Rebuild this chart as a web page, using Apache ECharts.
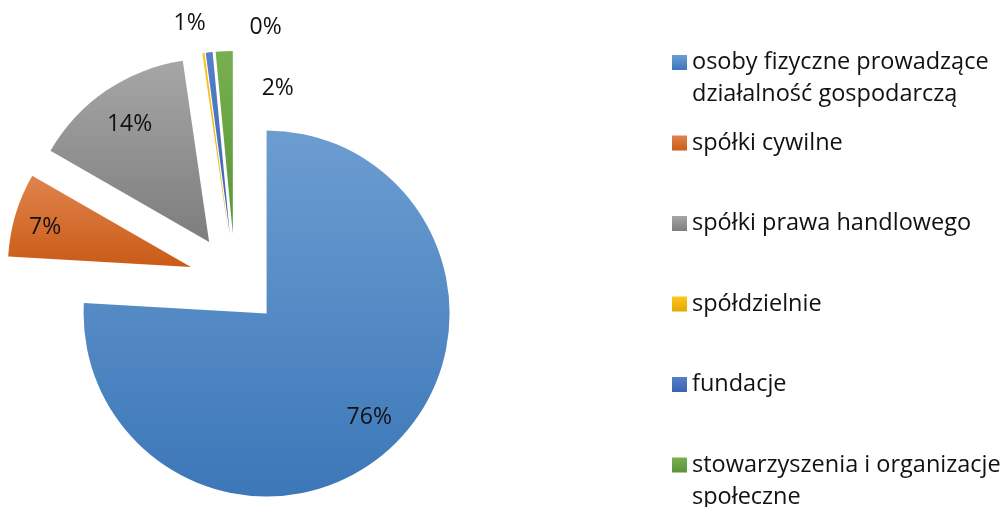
<!DOCTYPE html>
<html><head><meta charset="utf-8">
<script src="https://cdn.jsdelivr.net/npm/echarts@6/dist/echarts.min.js"></script>
<style>html,body{margin:0;padding:0;background:#fff;}#c{width:1003px;height:507px;}</style>
</head><body><div id="c"></div>
<script>
// Data
const categories = [
  'osoby fizyczne prowadzące działalność gospodarczą',
  'spółki cywilne',
  'spółki prawa handlowego',
  'spółdzielnie',
  'fundacje',
  'stowarzyszenia i organizacje społeczne'
];
const values = [75.9, 7.4, 14.4, 0.2, 0.6, 1.5];
const legendText = [
  'osoby fizyczne prowadzące\ndziałalność gospodarczą',
  'spółki cywilne',
  'spółki prawa handlowego',
  'spółdzielnie',
  'fundacje',
  'stowarzyszenia i organizacje\nspołeczne'
];

// Styles
const gradStops = [
  ['#6c9dd1', '#3c77b8'],
  ['#e0834d', '#ca5b17'],
  ['#a6a6a6', '#7d7d7d'],
  ['#ffc621', '#e0a800'],
  ['#5580cc', '#3a62ad'],
  ['#78b050', '#5a9438']
];
const labelShift = [[0, -5], [-2.5, 3], [4.5, 6], [57.5, -59], [-23.3, -62], [52, 4]];
const legendIconY = [62.5, 143, 223.5, 304, 384.5, 465];
const FONT = '"Open Sans", Lato, sans-serif';
const LEG_FS = 23.5, LAB_FS = 23, LH = 32;

function grad(c) {
  return {type: 'linear', x: 0, y: 0, x2: 0, y2: 1,
    colorStops: [{offset: 0, color: c[0]}, {offset: 1, color: c[1]}]};
}

const mainData = categories.map((n, i) => ({
  name: n, value: values[i], selected: true,
  itemStyle: {color: grad(gradStops[i])}
}));
const labelData = categories.map((n, i) => ({name: n, value: values[i], selected: true}));

const legends = categories.map((n, i) => {
  const twoLine = legendText[i].indexOf('\n') >= 0;
  const half = twoLine ? (LH * 3) / 2 : LH / 2;
  return {
    orient: 'vertical', left: 672, top: legendIconY[i] - half, padding: 0,
    itemWidth: 15, itemHeight: 15, itemGap: 0, selectedMode: false,
    icon: 'rect', data: [n],
    formatter: () => (twoLine ? '\n' : '') + legendText[i],
    textStyle: {fontFamily: FONT, fontSize: LEG_FS, lineHeight: LH, color: '#111111'}
  };
});

const common = {
  type: 'pie', center: [235, 280], startAngle: 90, clockwise: true,
  selectedMode: 'multiple', selectedOffset: 46, animation: false,
  emphasis: {disabled: true}, labelLine: {show: false},
  select: {itemStyle: {borderWidth: 0}}
};

const chart = echarts.init(document.getElementById('c'), null, {renderer: 'canvas'});
chart.setOption({
  backgroundColor: '#ffffff',
  animation: false,
  legend: legends,
  series: [
    Object.assign({}, common, {
      name: 'main', radius: [0, 183], data: mainData,
      itemStyle: {borderWidth: 0},
      label: {show: false}
    }),
    Object.assign({}, common, {
      name: 'labels', radius: [110, 183], data: labelData, silent: true,
      itemStyle: {color: 'rgba(0,0,0,0)', borderWidth: 0},
      label: {show: true, position: 'inside', color: '#111111', fontFamily: FONT, fontSize: LAB_FS,
        formatter: p => Math.round(p.value) + '%'},
      labelLayout: p => ({dx: labelShift[p.dataIndex][0], dy: labelShift[p.dataIndex][1], hideOverlap: false})
    })
  ]
});
</script></body></html>
